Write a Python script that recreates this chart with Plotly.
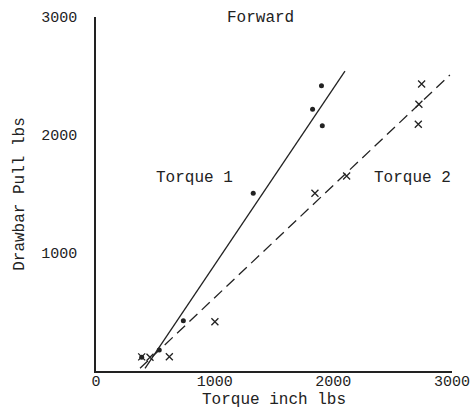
import plotly.graph_objects as go

# Torque 1 (dots)
t1_x = [385, 533, 736, 1325, 1825, 1900, 1907]
t1_y = [116, 178, 426, 1506, 2218, 2418, 2079]
# Torque 2 (crosses)
t2_x = [385, 455, 618, 1002, 1845, 2112, 2716, 2721, 2744]
t2_y = [120, 116, 121, 418, 1506, 1653, 2091, 2260, 2432]
# fitted lines (endpoints)
fit1_x = [413, 2098]
fit1_y = [23, 2542]
fit2_x = [371, 2982]
fit2_y = [23, 2508]

x_ticks = [0, 1000, 2000, 3000]
y_ticks = [1000, 2000, 3000]

FONT = "Liberation Mono, Courier New, monospace"
INK = "#222222"

fig = go.Figure()
fig.add_trace(go.Scatter(x=fit1_x, y=fit1_y, mode="lines",
                         line=dict(color=INK, width=1.3), showlegend=False))
fig.add_trace(go.Scatter(x=fit2_x, y=fit2_y, mode="lines",
                         line=dict(color=INK, width=1.3, dash="11px,6px"), showlegend=False))
fig.add_trace(go.Scatter(x=t1_x, y=t1_y, mode="markers",
                         marker=dict(color=INK, size=5, symbol="circle"), showlegend=False))
fig.add_trace(go.Scatter(x=t2_x, y=t2_y, mode="markers",
                         marker=dict(color=INK, size=7, symbol="x-thin",
                                     line=dict(color=INK, width=1.3)), showlegend=False))

fig.add_annotation(x=1390, y=2990, text="Forward", showarrow=False,
                   font=dict(family=FONT, size=16, color=INK))
fig.add_annotation(x=834, y=1636, text="Torque 1", showarrow=False,
                   font=dict(family=FONT, size=16, color=INK))
fig.add_annotation(x=2670, y=1636, text="Torque 2", showarrow=False,
                   font=dict(family=FONT, size=16, color=INK))

fig.update_layout(
    width=475, height=414,
    margin=dict(l=96, r=23, t=17, b=43),
    paper_bgcolor="white", plot_bgcolor="white",
    font=dict(family=FONT, size=15, color=INK),
    showlegend=False,
)
fig.update_xaxes(range=[0, 3000], tickvals=x_ticks, ticktext=[str(v) for v in x_ticks],
                 showgrid=False, zeroline=False, showline=True, linecolor=INK, linewidth=1.5,
                 ticks="", ticklabelstandoff=-5, automargin=False,
                 title=dict(text="Torque inch lbs", standoff=0, font=dict(family=FONT, size=16, color=INK)))
fig.update_yaxes(range=[0, 3000], tickvals=y_ticks, ticktext=[str(v) for v in y_ticks],
                 showgrid=False, zeroline=False, showline=True, linecolor=INK, linewidth=1.5,
                 ticks="", ticklabelstandoff=14, automargin=False,
                 title=dict(text="Drawbar Pull lbs", standoff=13, font=dict(family=FONT, size=16, color=INK)))

fig.write_html("out.html")
